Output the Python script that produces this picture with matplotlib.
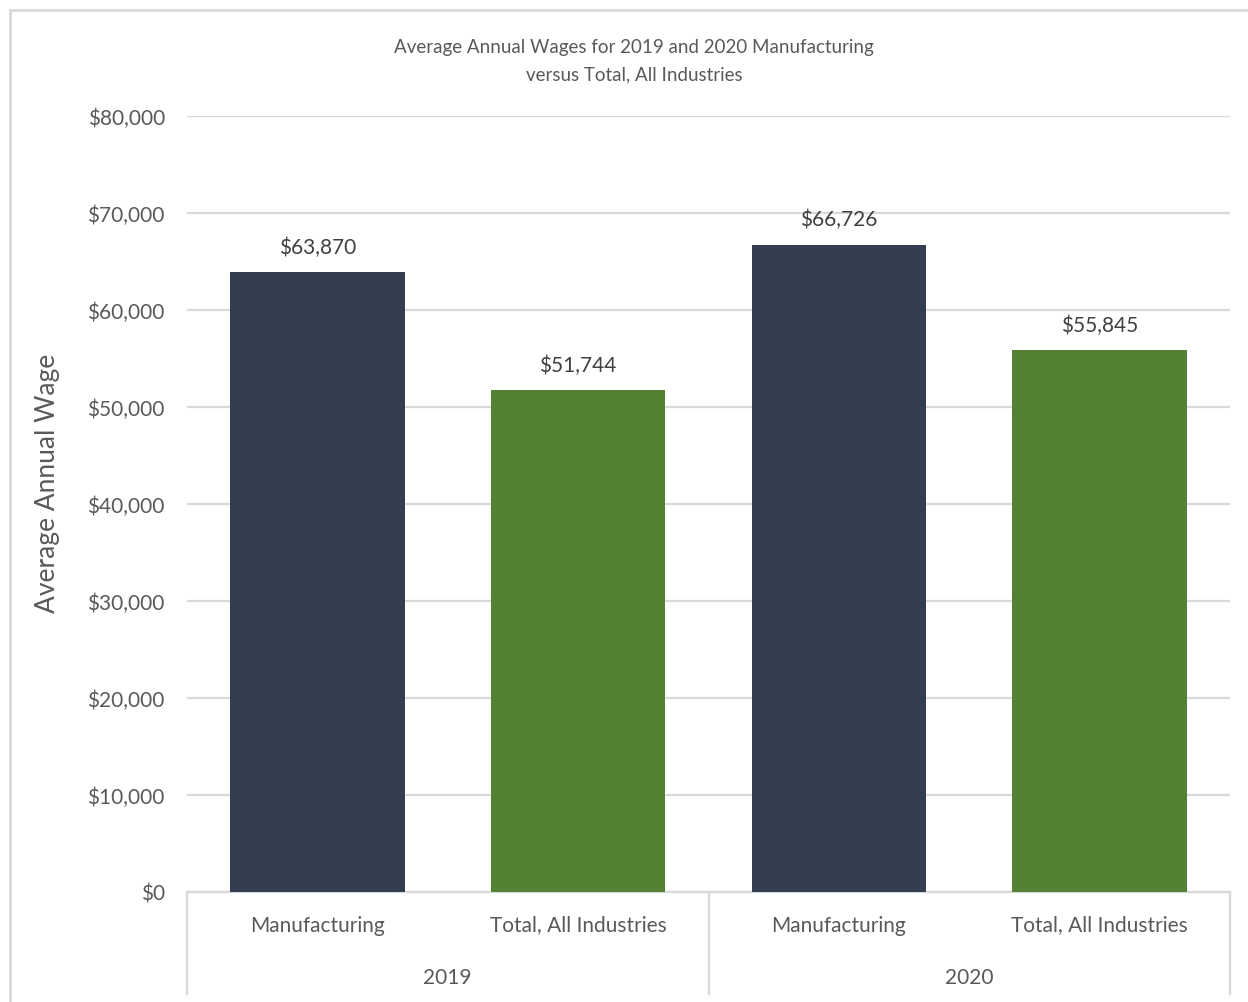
import matplotlib.pyplot as plt
from matplotlib.patches import Rectangle
import numpy as np

plt.rcParams['font.family'] = ['Lato', 'DejaVu Sans']

# data
years = ['2019', '2020']
categories = ['Manufacturing', 'Total, All Industries']
wages = [63870, 51744, 66726, 55845]
bar_colors = ['#333f50', '#548235', '#333f50', '#548235']
yticks = [0, 10000, 20000, 30000, 40000, 50000, 60000, 70000, 80000]

fig = plt.figure(figsize=(12.48, 10.03), dpi=100)
ax = fig.add_axes([187 / 1248, 110 / 1003, 1043 / 1248, 776 / 1003])

x = np.arange(len(wages))
bars = ax.bar(x, wages, width=0.67, color=bar_colors, zorder=3)
ax.set_xlim(-0.5, len(wages) - 0.5)
ax.set_ylim(0, 80000)
ax.set_yticks(yticks)
ax.set_yticklabels(['${:,.0f}'.format(v) for v in yticks], fontsize=15, color='#595959')
ax.tick_params(axis='y', length=0, pad=16)
ax.yaxis.grid(True, color='#d9d9d9', lw=1.6, zorder=0)
ax.set_xticks([])
for s in ['top', 'right', 'left']:
    ax.spines[s].set_visible(False)
ax.spines['bottom'].set_color('#d9d9d9')
ax.spines['bottom'].set_linewidth(1.6)

for b, v in zip(bars, wages):
    ax.annotate('${:,.0f}'.format(v), (b.get_x() + b.get_width() / 2, v),
                xytext=(0, 11), textcoords='offset points', ha='center', va='bottom',
                fontsize=15, color='#404040')

# two-level category axis
trans = ax.get_xaxis_transform()
cats = categories * len(years)
for i, c in enumerate(cats):
    ax.text(i, -0.042, c, transform=trans, ha='center', va='center', fontsize=15, color='#595959')
for j, yr in enumerate(years):
    ax.text(j * 2 + 0.5, -0.109, yr, transform=trans, ha='center', va='center', fontsize=15, color='#595959')
for xb in [-0.5, 1.5, 3.5]:
    ax.plot([xb, xb], [0, -0.132], transform=trans, color='#d9d9d9', lw=1.6, clip_on=False)

ax.set_ylabel('Average Annual Wage', fontsize=19, color='#595959')
ax.yaxis.set_label_coords(-127 / 1043, (893 - 483) / 776)

fig.text(634 / 1248, 1 - 61 / 1003, 'Average Annual Wages for 2019 and 2020 Manufacturing\nversus Total, All Industries',
         ha='center', va='center', fontsize=13.5, color='#595959', linespacing=1.75)

fig.patches.append(Rectangle((10 / 1248, -0.1), 1.2, 1 - 11 / 1003 + 0.1, transform=fig.transFigure,
                             fill=False, edgecolor='#d9d9d9', lw=2))

fig.savefig('out.png', dpi=100, facecolor='white')
